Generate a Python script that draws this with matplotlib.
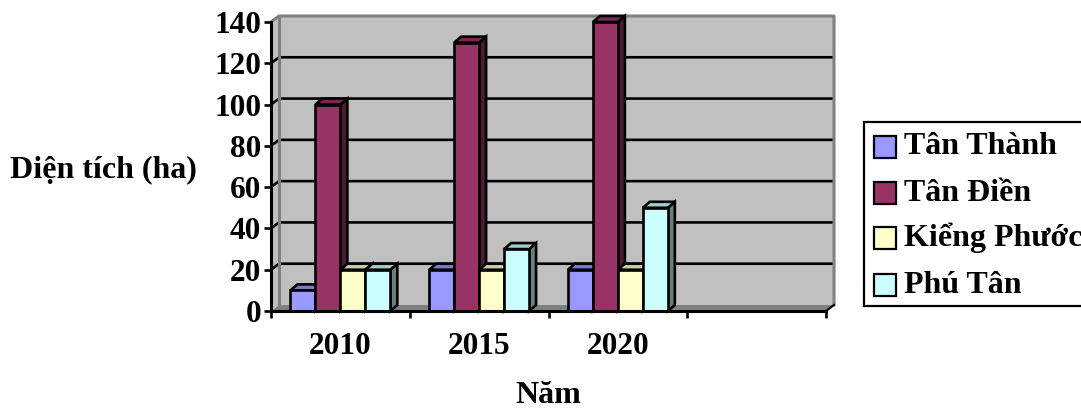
import matplotlib
matplotlib.use("Agg")
import matplotlib.pyplot as plt
from matplotlib.colors import to_rgb
from matplotlib.patches import Polygon, Rectangle

years = ["2010", "2015", "2020", ""]
series = ["Tân Thành", "Tân Điền", "Kiểng Phước", "Phú Tân"]
tan_thanh = [10, 20, 20]
tan_dien = [100, 130, 140]
kieng_phuoc = [20, 20, 20]
phu_tan = [20, 30, 50]
values = [tan_thanh, tan_dien, kieng_phuoc, phu_tan]
colors = ["#9999FF", "#993366", "#FFFFCC", "#CCFFFF"]
yticks = [0, 20, 40, 60, 80, 100, 120, 140]

W, H = 1081, 411
plt.rcParams["font.family"] = ["Liberation Serif", "DejaVu Serif"]
plt.rcParams["font.weight"] = "bold"
FS = 22.5


def shade(c, k):
    r, g, b = to_rgb(c)
    return (r * k, g * k, b * k)


fig = plt.figure(figsize=(W / 100, H / 100), dpi=100)
ax = fig.add_axes([271 / W, 1 - 311 / H, 555 / W, 289 / H])
ncat = len(years)
ymax = yticks[-1]
ax.set_xlim(0, ncat)
ax.set_ylim(0, ymax)
ax.patch.set_visible(False)

# pixel -> data scale for the 3d depth offsets
sx = ncat / 555
sy = ymax / 289
wdx, wdy = 8 * sx, 6 * sy   # walls
bdx, bdy = 7 * sx, 6 * sy   # columns

wall = "#C0C0C0"
edge = "#808080"
ax.add_patch(Polygon([(0, 0), (wdx, wdy), (wdx, ymax + wdy), (0, ymax)],
                     facecolor=wall, edgecolor="none", zorder=0.1, clip_on=False))
ax.add_patch(Polygon([(wdx, wdy), (ncat + wdx, wdy), (ncat + wdx, ymax + wdy), (wdx, ymax + wdy)],
                     facecolor=wall, edgecolor="none", zorder=0.1, clip_on=False))
ax.add_patch(Polygon([(0, 0), (ncat, 0), (ncat + wdx, wdy), (wdx, wdy)],
                     facecolor="#808080", edgecolor="none", zorder=0.2, clip_on=False))

for v in yticks[1:-1]:
    ax.plot([0, wdx, ncat + wdx], [v, v + wdy, v + wdy], color="black", lw=1.9,
            zorder=0.3, clip_on=False, solid_capstyle="butt")

ax.plot([wdx, wdx], [wdy, ymax + wdy], color=edge, lw=2.2, zorder=0.4, clip_on=False)
ax.plot([0, wdx, ncat + wdx, ncat + wdx], [ymax, ymax + wdy, ymax + wdy, wdy],
        color=edge, lw=2.2, zorder=0.4, clip_on=False)
ax.plot([ncat, ncat + wdx], [0, wdy], color="black", lw=1.5, zorder=0.4, clip_on=False)

# 3d clustered columns
bw = 0.18
start = (1 - bw * len(series)) / 2
z = 1
for i in range(len(values[0])):
    for j, vals in enumerate(values):
        x0 = i + start + j * bw
        v = vals[i]
        c = colors[j]
        kw = dict(edgecolor="black", lw=1.9, joinstyle="miter", clip_on=False)
        ax.add_patch(Polygon([(x0 + bw, 0), (x0 + bw + bdx, bdy), (x0 + bw + bdx, v + bdy), (x0 + bw, v)],
                             facecolor=shade(c, 0.5), zorder=z, **kw))
        ax.add_patch(Polygon([(x0, v), (x0 + bw, v), (x0 + bw + bdx, v + bdy), (x0 + bdx, v + bdy)],
                             facecolor=shade(c, 0.8), zorder=z, **kw))
        ax.add_patch(Rectangle((x0, 0), bw, v, facecolor=c, zorder=z + 0.5, **kw))
        z += 1

for s in ["top", "right"]:
    ax.spines[s].set_visible(False)
for s in ["left", "bottom"]:
    ax.spines[s].set_linewidth(2.2)
    ax.spines[s].set_zorder(50)

ax.set_yticks(yticks)
ax.set_yticklabels([str(t) for t in yticks])
ax.tick_params(axis="y", length=5, width=1.9, pad=2, labelsize=FS)
ax.set_xticks([i + 0.5 for i in range(ncat)])
ax.set_xticklabels(years)
ax.set_xticks(range(ncat + 1), minor=True)
ax.tick_params(axis="x", which="major", length=0, pad=15, labelsize=FS)
ax.tick_params(axis="x", which="minor", length=5, width=1.9)

fig.text(103 / W, 1 - 170 / H, "Diện tích (ha)", ha="center", va="center", fontsize=23)
fig.text(548 / W, 1 - 395 / H, "Năm", ha="center", va="center", fontsize=23)

# legend box, running off the right edge
def fx(px):
    return px / W


def fy(py):
    return 1 - py / H


fig.add_artist(Rectangle((fx(864), fy(306)), fx(1100) - fx(864), fy(122) - fy(306),
                         transform=fig.transFigure, facecolor="white", edgecolor="black", lw=1.6))
rows = [147, 193, 238, 285]
for name, c, ry in zip(series, colors, rows):
    fig.add_artist(Rectangle((fx(874), fy(ry + 11)), 22 / W, 22 / H, transform=fig.transFigure,
                             facecolor=c, edgecolor="black", lw=1.6))
    fig.text(fx(904), fy(ry), name, ha="left", va="center", fontsize=23)

fig.savefig("out.png", dpi=100)
